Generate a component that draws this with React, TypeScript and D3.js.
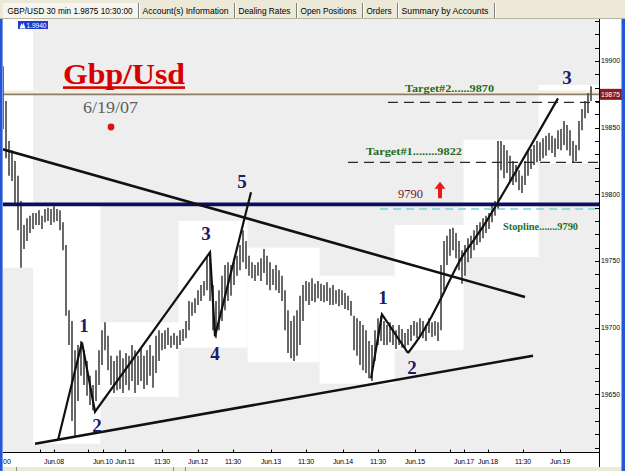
import React from 'react';
import * as d3 from 'd3';

// hourly bars, prices written as the four digits after "1." (9896 = 1.9896)
const barHigh = [
  9896, 9870, 9840, 9833, 9825, 9814, 9795, 9777, 9782, 9784,
  9786, 9786, 9788, 9784, 9789, 9790, 9789, 9791, 9789, 9788,
  9779, 9762, 9713, 9705, 9683, 9687, 9690, 9683, 9675, 9664,
  9657, 9668, 9683, 9698, 9704, 9694, 9679, 9675, 9679, 9683,
  9677, 9681, 9679, 9687, 9683, 9679, 9684, 9679, 9683, 9687,
  9679, 9694, 9698, 9696, 9698, 9700, 9694, 9696, 9694, 9698,
  9699, 9705, 9720, 9719, 9722, 9728, 9732, 9735, 9754, 9754,
  9732, 9720, 9728, 9739, 9747, 9749, 9747, 9752, 9754, 9762,
  9773, 9765, 9754, 9749, 9747, 9749, 9752, 9759, 9754, 9749,
  9744, 9747, 9743, 9739, 9728, 9713, 9705, 9709, 9713, 9724,
  9732, 9735, 9734, 9737, 9733, 9735, 9733, 9732, 9734, 9730,
  9732, 9728, 9729, 9728, 9726, 9724, 9720, 9709, 9707, 9705,
  9702, 9698, 9690, 9687, 9698, 9707, 9709, 9705, 9702, 9704,
  9702, 9698, 9702, 9699, 9696, 9699, 9702, 9705, 9704, 9707,
  9705, 9702, 9707, 9704, 9705, 9704, 9747, 9765, 9769, 9774,
  9775, 9771, 9765, 9758, 9762, 9767, 9769, 9773, 9777, 9779,
  9782, 9784, 9786, 9792, 9795, 9840, 9840, 9837, 9833, 9829,
  9825, 9822, 9818, 9814, 9825, 9833, 9834, 9837, 9840, 9839,
  9842, 9844, 9846, 9844, 9842, 9848, 9849, 9855, 9852, 9848,
  9840, 9837, 9855, 9864, 9870, 9876, 9881
];
const barLow = [
  9849, 9827, 9814, 9810, 9792, 9773, 9745, 9759, 9765, 9771,
  9774, 9777, 9777, 9774, 9779, 9780, 9777, 9779, 9780, 9773,
  9758, 9709, 9687, 9630, 9618, 9645, 9664, 9657, 9649, 9642,
  9638, 9645, 9657, 9672, 9683, 9668, 9657, 9651, 9653, 9654,
  9651, 9657, 9653, 9660, 9651, 9657, 9660, 9654, 9657, 9664,
  9655, 9666, 9675, 9683, 9684, 9687, 9685, 9687, 9684, 9687,
  9690, 9692, 9698, 9709, 9711, 9717, 9720, 9724, 9728, 9720,
  9698, 9692, 9698, 9705, 9713, 9720, 9724, 9732, 9739, 9743,
  9749, 9744, 9739, 9737, 9735, 9739, 9735, 9741, 9732, 9728,
  9732, 9728, 9726, 9720, 9698, 9681, 9677, 9675, 9679, 9687,
  9705, 9720, 9717, 9720, 9719, 9722, 9720, 9719, 9720, 9717,
  9717, 9718, 9716, 9717, 9714, 9713, 9709, 9683, 9679, 9672,
  9668, 9666, 9662, 9660, 9675, 9687, 9690, 9687, 9687, 9689,
  9687, 9684, 9687, 9685, 9684, 9687, 9690, 9694, 9692, 9694,
  9692, 9690, 9696, 9693, 9694, 9690, 9698, 9728, 9747, 9754,
  9758, 9752, 9743, 9733, 9739, 9749, 9752, 9758, 9762, 9764,
  9767, 9771, 9774, 9779, 9784, 9789, 9818, 9812, 9816, 9810,
  9807, 9809, 9803, 9801, 9807, 9814, 9819, 9822, 9824, 9825,
  9827, 9829, 9833, 9831, 9828, 9834, 9833, 9837, 9833, 9829,
  9824, 9825, 9833, 9848, 9857, 9861, 9870
];

// white boxes = range of each trading session (bar index from/to, high, low)
const dayFrom = [-1, 10, 32.5, 58.5, 81.5, 105.5, 130.5, 153.5, 178.5];
const dayTo = [10, 32.5, 58.5, 81.5, 105.5, 130.5, 153.5, 178.5, 199];
const dayHigh = [9960, 9792, 9704, 9780, 9760, 9739, 9777, 9841, 9882];
const dayLow = [9745, 9613, 9648, 9685, 9674, 9658, 9683, 9753, 9823];

const lastPrice = 9875;
const priceLabels = [9650, 9700, 9750, 9800, 9850, 9900];

const timeTickAt = [12.33, 17, 28.33, 33.33, 40.67, 53, 65, 76.67, 89.33, 101, 113.33, 125, 137.33, 149, 153.67, 161.67, 173.33, 185.67];
const timeTickLabel = ['', 'Jun.08', '', 'Jun.10', 'Jun.11', '11:30', 'Jun.12', '11:30', 'Jun.13', '11:30', 'Jun.14', '11:30', 'Jun.15', '', 'Jun.17', 'Jun.18', '11:30', 'Jun.19'];

const tabNames = ['GBP/USD 30 min 1.9875 10:30:00', 'Account(s) Information', 'Dealing Rates', 'Open Positions', 'Orders', 'Summary by Accounts'];
const tabEdges = [3, 138, 234, 296, 362, 397, 494];

// hand drawn analysis, points as [bar index, price]
const trendDown = [[-0.33, 9834], [174, 9723]];
const trendUp = [[10.67, 9613], [176.67, 9679]];
const leftWave = [[18.33, 9615.5], [26.33, 9689], [30.67, 9637], [69, 9756.5], [70.67, 9693.5], [82.67, 9801.5]];
const rightWaveStart = [[122.67, 9662], [126.33, 9710], [135, 9681]];
const rightWaveRun = [[135, 9681], [139, 9693.5], [143, 9709], [146, 9722], [149, 9736], [153, 9753], [157.33, 9767], [161.33, 9780.5], [185, 9872]];
const waveLabels: [string, number, number][] = [
  ['1', 27, 9702], ['2', 31.33, 9627], ['3', 67.67, 9771], ['4', 70.67, 9681], ['5', 79.67, 9810],
  ['1', 126.67, 9723], ['2', 136.33, 9670], ['3', 188, 9888]
];

const levelPrice = [9869, 9824, 9789, 9792.5];
const levelFrom = [128.3, 115, 125.7, -2];
const levelKind = ['target', 'target', 'stop', 'pivot'];

const notes: { text: string; at: number; price: number; w: number; color: string; bold: boolean; size: number }[] = [
  { text: 'Target#2......9870', at: 134, price: 9877, w: 89, color: '#246b24', bold: true, size: 11 },
  { text: 'Target#1........9822', at: 121, price: 9829.5, w: 96, color: '#246b24', bold: true, size: 11 },
  { text: '9790', at: 131.67, price: 9797, w: 25, color: '#6e1c1c', bold: false, size: 12.5 },
  { text: 'Stopline.......9790', at: 166.67, price: 9773.5, w: 75, color: '#1f721f', bold: true, size: 11 }
];
const arrowAt = 145.67, arrowTip = 9809.5, arrowBase = 9797;

const serif = "'Liberation Serif', 'Times New Roman', serif";
const sans = "'Liberation Sans', Arial, sans-serif";

export default function App() {
  const x = d3.scaleLinear().domain([0, 196]).range([3, 591]);
  const y = d3.scaleLinear().domain([9600, 9900]).range([461, 61]);
  const line = d3.line<number[]>().x(d => x(d[0])).y(d => y(d[1]));
  const smooth = d3.line<number[]>().x(d => x(d[0])).y(d => y(d[1])).curve(d3.curveCatmullRom);
  const plot = { left: 3, right: 599, top: 19, bottom: 452.5 };
  const minorTicks = d3.range(9610, 9931, 10);

  const ax = x(arrowAt), at = y(arrowTip), ab = y(arrowBase);
  const arrowPath = `M${ax},${at} L${ax + 5.5},${at + 7} L${ax + 2},${at + 7} L${ax + 2},${ab} L${ax - 2},${ab} L${ax - 2},${at + 7} L${ax - 5.5},${at + 7} Z`;

  return (
    <div style={{ position: 'absolute', left: 0, top: 0 }}>
      <svg width={625} height={471} style={{ display: 'block', background: '#fff' }}>
        <defs>
          <clipPath id="plotClip">
            <rect x={plot.left} y={plot.top} width={plot.right - plot.left} height={plot.bottom - plot.top} />
          </clipPath>
        </defs>

        {/* tab strip */}
        <rect x={0} y={0} width={625} height={19} fill="#ece9d8" />
        <rect x={tabEdges[0]} y={3} width={tabEdges[1] - tabEdges[0]} height={16} fill="#f6f5ef" />
        {tabNames.map((t, i) => (
          <g key={t}>
            <line x1={tabEdges[i + 1] + 0.5} x2={tabEdges[i + 1] + 0.5} y1={3} y2={19} stroke="#7f7f7f" />
            <line x1={tabEdges[i + 1] + 1.5} x2={tabEdges[i + 1] + 1.5} y1={3} y2={19} stroke="#ffffff" />
            <text x={tabEdges[i] + 4.5} y={14} fontFamily={sans} fontSize={9} fill="#000"
              textLength={tabEdges[i + 1] - tabEdges[i] - 10} lengthAdjust="spacingAndGlyphs">{t}</text>
          </g>
        ))}
        <line x1={0} x2={625} y1={18.5} y2={18.5} stroke="#b8b4a4" />

        {/* plot background + session ranges */}
        <rect x={plot.left} y={plot.top} width={plot.right - plot.left} height={plot.bottom - plot.top} fill="#eeeeee" />
        <g clipPath="url(#plotClip)">
          {dayFrom.map((d, i) => (
            <rect key={i} x={x(d)} y={y(dayHigh[i])} width={x(dayTo[i]) - x(d)} height={y(dayLow[i]) - y(dayHigh[i])} fill="#ffffff" />
          ))}

          {/* last price line */}
          <rect x={plot.left} y={y(lastPrice) - 4} width={plot.right - plot.left} height={3.5} fill="#f4f0dc" />
          <line x1={plot.left} x2={plot.right} y1={y(lastPrice)} y2={y(lastPrice)} stroke="#8c7d72" strokeWidth={1.6} />

          {/* bars */}
          {barHigh.map((h, i) => (
            <line key={i} x1={x(i)} x2={x(i)} y1={y(h)} y2={y(barLow[i])} stroke="#585858" strokeWidth={1.8} />
          ))}

          {/* levels */}
          {levelPrice.map((p, i) => {
            const k = levelKind[i];
            return (
              <line key={i} x1={x(levelFrom[i])} x2={plot.right} y1={y(p)} y2={y(p)}
                stroke={k === 'pivot' ? '#0d0d5c' : k === 'stop' ? '#79d3d8' : '#2a2a2a'}
                strokeWidth={k === 'pivot' ? 3.6 : k === 'stop' ? 1.6 : 1.3}
                strokeDasharray={k === 'pivot' ? undefined : k === 'stop' ? '8 5' : '10 6'} />
            );
          })}

          {/* trend lines and wave count */}
          <path d={line(trendDown) || ''} stroke="#111" strokeWidth={2.6} fill="none" />
          <path d={line(trendUp) || ''} stroke="#111" strokeWidth={2.6} fill="none" />
          <path d={line(leftWave) || ''} stroke="#111" strokeWidth={2.2} fill="none" />
          <path d={line(rightWaveStart) || ''} stroke="#111" strokeWidth={2.2} fill="none" />
          <path d={smooth(rightWaveRun) || ''} stroke="#111" strokeWidth={2.2} fill="none" />
        </g>

        {waveLabels.map(([t, i, p], k) => (
          <text key={k} x={x(i)} y={y(p)} dy="0.35em" textAnchor="middle" fontFamily={serif}
            fontWeight="bold" fontSize={19} fill="#1b1b68">{t}</text>
        ))}

        {notes.map(n => (
          <text key={n.text} x={x(n.at)} y={y(n.price)} fontFamily={serif} fontWeight={n.bold ? 'bold' : 'normal'}
            fontSize={n.size} fill={n.color} textLength={n.w} lengthAdjust="spacingAndGlyphs">{n.text}</text>
        ))}
        <path d={arrowPath} fill="#e81a1a" />

        {/* title */}
        <text x={63} y={83.5} fontFamily={serif} fontWeight="bold" fontSize={30} fill="#d60000"
          textLength={122} lengthAdjust="spacingAndGlyphs">Gbp/Usd</text>
        <rect x={63} y={86.3} width={122} height={2.6} fill="#d60000" />
        <text x={83} y={113} fontFamily={serif} fontSize={17.5} fill="#5f5f5f" textLength={55} lengthAdjust="spacingAndGlyphs">6/19/07</text>
        <circle cx={111} cy={127} r={3.4} fill="#e01010" />

        {/* high badge */}
        <rect x={18} y={21} width={30} height={8} fill="#1c3ccc" />
        <path d="M19.5,28.5 L21.5,23 L22.5,25.5 L23.5,22.5 L25.5,28.5 Z" fill="#ffffff" />
        <text x={26.5} y={27.8} fontFamily={sans} fontSize={7} fill="#ffffff" textLength={20} lengthAdjust="spacingAndGlyphs">1.9940</text>

        {/* price axis */}
        <line x1={plot.right + 0.5} x2={plot.right + 0.5} y1={plot.top} y2={467} stroke="#000" />
        {minorTicks.map(t => (
          <line key={t} x1={plot.right - 4} x2={plot.right} y1={Math.round(y(t)) + 0.5} y2={Math.round(y(t)) + 0.5} stroke="#000" />
        ))}
        {priceLabels.map(t => (
          <text key={t} x={601} y={y(t)} dy="0.35em" fontFamily={sans} fontSize={7} fill="#000"
            textLength={19} lengthAdjust="spacingAndGlyphs">{'1' + t}</text>
        ))}
        <rect x={600} y={y(lastPrice) - 5.5} width={22} height={11} fill="#8b1a1a" />
        <text x={601} y={y(lastPrice)} dy="0.35em" fontFamily={sans} fontSize={7} fill="#fff"
          textLength={19} lengthAdjust="spacingAndGlyphs">{'1' + lastPrice}</text>

        {/* time axis */}
        <line x1={plot.left} x2={plot.right} y1={plot.bottom} y2={plot.bottom} stroke="#000" />
        {timeTickAt.map((t, i) => (
          <g key={i}>
            <line x1={Math.round(x(t)) + 0.5} x2={Math.round(x(t)) + 0.5} y1={plot.bottom - 3} y2={plot.bottom} stroke="#000" />
            {timeTickLabel[i] && (
              <text x={x(t)} y={462} dy="0.35em" textAnchor="middle" fontFamily={sans} fontSize={7} fill="#000"
                letterSpacing={-0.2}>{timeTickLabel[i]}</text>
            )}
          </g>
        ))}
        <text x={3} y={462} dy="0.35em" fontFamily={sans} fontSize={7} fill="#000">00</text>

        {/* status strip and window frame */}
        <rect x={0} y={467} width={625} height={4} fill="#ece9d8" />
        {[16, 173, 185].map(v => (
          <line key={v} x1={v + 0.5} x2={v + 0.5} y1={467} y2={471} stroke="#8a8a8a" />
        ))}
        <rect x={0} y={19} width={2.6} height={452} fill="#2456d8" />
        <rect x={621.5} y={19} width={3.5} height={452} fill="#2456d8" />
      </svg>
    </div>
  );
}
